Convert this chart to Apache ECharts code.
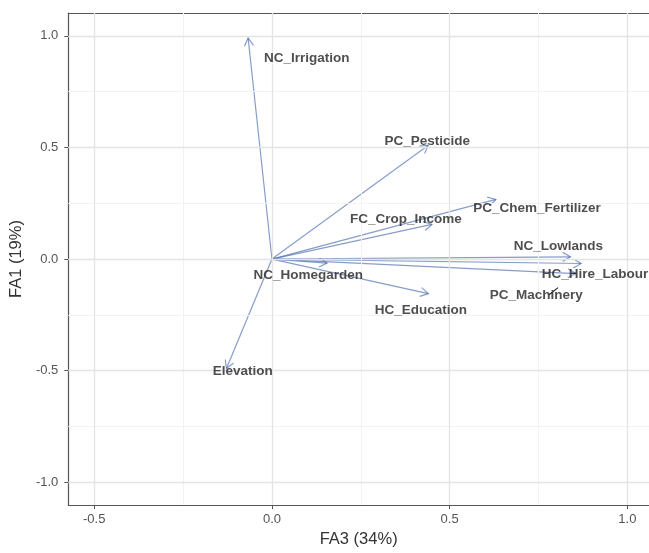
<!DOCTYPE html>
<html>
<head>
<meta charset="utf-8">
<script src="https://cdn.jsdelivr.net/npm/echarts@6/dist/echarts.min.js"></script>
<style>html,body{margin:0;padding:0;background:#fff;}#c{width:649px;height:553px;}</style>
</head>
<body>
<div id="c"></div>
<script>
// Variable loadings (FA3, FA1)
const variables = ['NC_Irrigation','PC_Pesticide','PC_Chem_Fertilizer','FC_Crop_Income','NC_Lowlands','HC_Hire_Labour','PC_Machinery','HC_Education','NC_Homegarden','Elevation'];
const fa3 = [-0.067, 0.44, 0.63, 0.45, 0.84, 0.87, 0.855, 0.44, 0.155, -0.128];
const fa1 = [0.99, 0.51, 0.267, 0.155, 0.01, -0.02, -0.065, -0.155, -0.018, -0.49];
// Repelled label positions
const labelX = [0.098, 0.437, 0.746, 0.377, 0.806, 0.909, 0.744, 0.419, 0.102, -0.082];
const labelY = [0.898, 0.527, 0.226, 0.177, 0.058, -0.070, -0.164, -0.230, -0.071, -0.504];
// Repel segment for PC_Machinery
const segFrom = [0.78, -0.16];
const segTo = [0.805, -0.128];
// Ticks
const xTicks = [-0.5, 0, 0.5, 1.0];
const xMinor = [-0.25, 0.25, 0.75];
const yTicks = [-1.0, -0.5, 0, 0.5, 1.0];
const yMinor = [-0.75, -0.25, 0.25, 0.75];

const chart = echarts.init(document.getElementById('c'), null, {renderer: 'canvas'});
const arrowData = variables.map((n, i) => [fa3[i], fa1[i], n]);
const labelData = variables.map((n, i) => [labelX[i], labelY[i], n]);

const gridLines = [];
xMinor.forEach(v => gridLines.push({xAxis: v, lineStyle: {color: '#f2f2f2', width: 1, type: 'solid'}}));
yMinor.forEach(v => gridLines.push({yAxis: v, lineStyle: {color: '#f2f2f2', width: 1, type: 'solid'}}));
xTicks.forEach(v => gridLines.push({xAxis: v, lineStyle: {color: '#e4e4e4', width: 1.3, type: 'solid'}}));
yTicks.forEach(v => gridLines.push({yAxis: v, lineStyle: {color: '#e4e4e4', width: 1.3, type: 'solid'}}));

const fmt = v => (Math.round(v * 10) / 10).toFixed(1);

chart.setOption({
  animation: false,
  backgroundColor: '#fff',
  grid: {left: 64, top: 13, right: 0, bottom: 42, containLabel: false},
  xAxis: [{
    type: 'value', min: -0.573, max: 1.061,
    name: 'FA3 (34%)', nameLocation: 'middle', nameGap: 24,
    nameTextStyle: {fontFamily: 'Liberation Sans, Arial, sans-serif', fontSize: 16.5, color: '#333'},
    axisLine: {show: true, onZero: false, lineStyle: {color: '#555', width: 1.2}},
    axisTick: {show: true, length: 4, customValues: xTicks, lineStyle: {color: '#555'}},
    axisLabel: {show: true, customValues: xTicks, formatter: fmt, margin: 8, fontFamily: 'Liberation Sans, Arial, sans-serif', fontSize: 13, color: '#555'},
    splitLine: {show: false}
  }, {
    type: 'value', position: 'top', min: -0.573, max: 1.061,
    axisLine: {show: true, onZero: false, lineStyle: {color: '#555', width: 1.2}},
    axisTick: {show: false}, axisLabel: {show: false}, splitLine: {show: false}
  }],
  yAxis: {
    type: 'value', min: -1.102, max: 1.102,
    name: 'FA1 (19%)', nameLocation: 'middle', nameGap: 36.5,
    nameTextStyle: {fontFamily: 'Liberation Sans, Arial, sans-serif', fontSize: 16.5, color: '#333'},
    axisLine: {show: true, onZero: false, lineStyle: {color: '#555', width: 1.2}},
    axisTick: {show: true, length: 4, customValues: yTicks, lineStyle: {color: '#555'}},
    axisLabel: {show: true, customValues: yTicks, formatter: fmt, margin: 10, fontFamily: 'Liberation Sans, Arial, sans-serif', fontSize: 13, color: '#555'},
    splitLine: {show: false}
  },
  series: [{
    type: 'scatter', data: [], z: 1, silent: true,
    markLine: {silent: true, symbol: ['none', 'none'], label: {show: false}, data: gridLines, animation: false}
  }, {
    type: 'custom', z: 3, silent: true,
    data: arrowData,
    renderItem: function (params, api) {
      const p0 = api.coord([0, 0]);
      const p1 = api.coord([api.value(0), api.value(1)]);
      const ang = Math.atan2(p1[1] - p0[1], p1[0] - p0[0]);
      const L = 9, a = Math.PI / 6;
      const h1 = [p1[0] - L * Math.cos(ang - a), p1[1] - L * Math.sin(ang - a)];
      const h2 = [p1[0] - L * Math.cos(ang + a), p1[1] - L * Math.sin(ang + a)];
      const st = {stroke: 'rgba(70,105,170,0.65)', lineWidth: 1.2, fill: null};
      return {type: 'group', children: [
        {type: 'line', shape: {x1: p0[0], y1: p0[1], x2: p1[0], y2: p1[1]}, style: st},
        {type: 'polyline', shape: {points: [h1, p1, h2]}, style: st}
      ]};
    }
  }, {
    type: 'custom', z: 4, silent: true,
    data: [[segFrom[0], segFrom[1], segTo[0], segTo[1]]],
    renderItem: function (params, api) {
      const a = api.coord([api.value(0), api.value(1)]);
      const b = api.coord([api.value(2), api.value(3)]);
      return {type: 'line', shape: {x1: a[0], y1: a[1], x2: b[0], y2: b[1]}, style: {stroke: '#222', lineWidth: 1.1}};
    }
  }, {
    type: 'scatter', z: 5, silent: true,
    symbolSize: 0,
    data: labelData,
    label: {
      show: true, position: 'inside', formatter: p => p.data[2],
      fontFamily: 'Liberation Sans, Arial, sans-serif', fontWeight: 'bold', fontSize: 13.5, color: '#222'
    }
  }]
});
</script>
</body>
</html>
